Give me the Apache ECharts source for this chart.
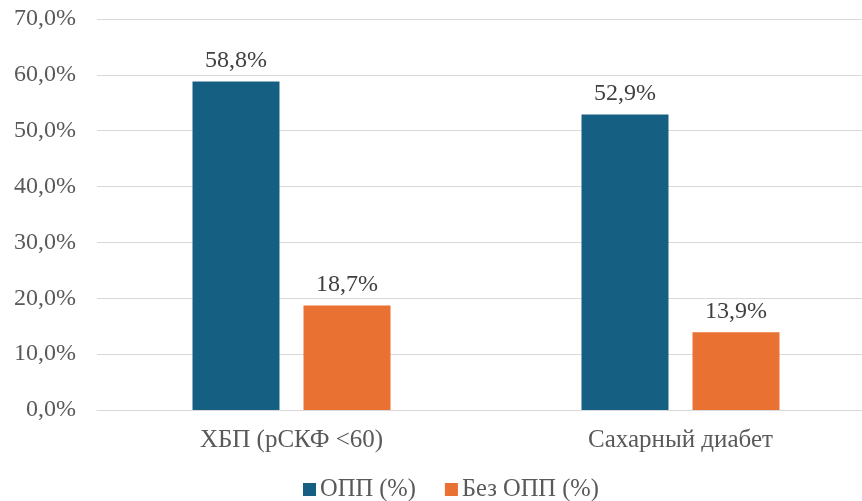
<!DOCTYPE html>
<html>
<head>
<meta charset="utf-8">
<script src="https://cdn.jsdelivr.net/npm/echarts@6/dist/echarts.min.js"></script>
<style>
  html, body { margin: 0; padding: 0; background: #fff; overflow: hidden; }
  #chart { width: 876px; height: 501px; }
</style>
</head>
<body>
<div id="chart"></div>
<script>
// Categories and series values (percent)
const categories = ['ХБП (рСКФ <60)', 'Сахарный диабет'];
const seriesNames = ['ОПП (%)', 'Без ОПП (%)'];
const withAKI = [58.8, 52.9];
const withoutAKI = [18.7, 13.9];
const yTicks = [0, 10, 20, 30, 40, 50, 60, 70];

const fontFamily = "'Liberation Serif', 'Times New Roman', serif";
const fmt = v => v.toFixed(1).replace('.', ',') + '%';

const chart = echarts.init(document.getElementById('chart'), null, { renderer: 'canvas' });

const labelCfg = {
  show: true,
  position: 'top',
  distance: 9,
  color: '#404040',
  fontFamily: fontFamily,
  fontSize: 24,
  formatter: p => fmt(p.value)
};

chart.setOption({
  animation: false,
  textStyle: { fontFamily: fontFamily },
  grid: { left: 97, right: 1, top: 19, bottom: 91, containLabel: false },
  legend: {
    top: 472,
    left: 298,
    itemWidth: 13,
    itemHeight: 13,
    itemGap: 29,
    icon: 'rect',
    textStyle: { fontFamily: fontFamily, fontSize: 24.5, color: '#595959', padding: [0, 0, 0, -1] },
    data: seriesNames
  },
  xAxis: {
    type: 'category',
    data: categories,
    axisTick: { show: false },
    axisLine: { lineStyle: { color: '#d9d9d9', width: 1 } },
    axisLabel: { color: '#595959', fontSize: 25, fontFamily: fontFamily, margin: 18 }
  },
  yAxis: {
    type: 'value',
    min: yTicks[0],
    max: yTicks[yTicks.length - 1],
    interval: 10,
    axisLine: { show: false },
    axisTick: { show: false },
    splitLine: { lineStyle: { color: '#d9d9d9', width: 1 } },
    axisLabel: { color: '#595959', fontSize: 24, fontFamily: fontFamily, margin: 21, formatter: v => fmt(v) }
  },
  series: [
    {
      name: seriesNames[0],
      type: 'bar',
      data: withAKI,
      barWidth: 87,
      barGap: '27.6%',
      itemStyle: { color: '#156082' },
      label: labelCfg
    },
    {
      name: seriesNames[1],
      type: 'bar',
      data: withoutAKI,
      barWidth: 87,
      barGap: '27.6%',
      itemStyle: { color: '#E97132' },
      label: labelCfg
    }
  ]
});
</script>
</body>
</html>
